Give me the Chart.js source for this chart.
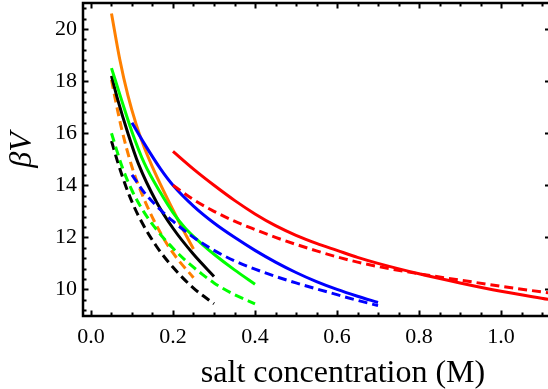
<!DOCTYPE html>
<html>
<head>
<meta charset="utf-8">
<script src="https://cdn.jsdelivr.net/npm/chart.js@4.4.0/dist/chart.umd.min.js"></script>
<style>
  html, body { margin: 0; padding: 0; background: #fff; }
  #wrap { width: 548px; height: 389px; }
</style>
</head>
<body>
<div id="wrap"><canvas id="chart"></canvas></div>
<script>
// salt concentration (M) -> beta*V, solid and dashed curve of each colour
const redX = [0.2, 0.25, 0.3, 0.35, 0.4, 0.45, 0.5, 0.55, 0.6, 0.65, 0.7, 0.8, 0.9, 1.0, 1.115];
const redSolid = [15.3, 14.62, 14.0, 13.42, 12.9, 12.45, 12.08, 11.77, 11.5, 11.23, 11.0, 10.6, 10.25, 9.93, 9.62];
const redDashed = [14.0, 13.45, 13.0, 12.62, 12.3, 12.0, 11.73, 11.48, 11.25, 11.05, 10.88, 10.6, 10.36, 10.12, 9.87];

const blueX = [0.1, 0.13, 0.17, 0.2, 0.25, 0.3, 0.35, 0.4, 0.45, 0.5, 0.55, 0.6, 0.65, 0.7];
const blueSolid = [16.4, 15.6, 14.62, 14.0, 13.2, 12.55, 12.0, 11.5, 11.05, 10.65, 10.3, 10.0, 9.74, 9.5];
const blueDashed = [14.4, 13.72, 13.05, 12.62, 12.0, 11.5, 11.1, 10.78, 10.5, 10.25, 10.02, 9.8, 9.58, 9.38];

const greenX = [0.05, 0.075, 0.1, 0.13, 0.17, 0.2, 0.23, 0.27, 0.3, 0.35, 0.4];
const greenSolid = [18.5, 17.25, 16.05, 14.85, 13.7, 12.95, 12.35, 11.75, 11.35, 10.75, 10.2];
const greenDashed = [16.0, 14.75, 13.8, 12.95, 12.1, 11.58, 11.12, 10.6, 10.25, 9.8, 9.45];

const blackX = [0.05, 0.065, 0.09, 0.115, 0.16, 0.2, 0.25, 0.3];
const blackSolid = [18.2, 17.3, 16.0, 14.85, 13.35, 12.35, 11.35, 10.5];
const blackDashed = [15.7, 14.9, 13.75, 12.85, 11.65, 10.85, 10.05, 9.45];

const orangeSolidX = [0.05, 0.07, 0.09, 0.11, 0.13, 0.15, 0.175, 0.2, 0.225, 0.25];
const orangeSolid = [20.6, 18.85, 17.45, 16.35, 15.45, 14.7, 13.85, 13.05, 12.28, 11.55];
const orangeDashedX = [0.05, 0.06, 0.075, 0.1, 0.13, 0.165, 0.2, 0.25];
const orangeDashed = [18.05, 17.25, 16.15, 14.7, 13.45, 12.3, 11.4, 10.45];

const xTicks = [0, 0.2, 0.4, 0.6, 0.8, 1.0];
const yTicks = [10, 12, 14, 16, 18, 20];

const pts = (xs, ys) => xs.map((x, i) => ({ x: x, y: ys[i] }));

function curve(xs, ys, color, dashed) {
  return {
    data: pts(xs, ys),
    borderColor: color,
    borderWidth: 3,
    borderDash: dashed ? [9, 5] : [],
    pointRadius: 0,
    fill: false,
    cubicInterpolationMode: 'monotone'
  };
}

const serif = '"Liberation Serif", "Times New Roman", serif';

// frame with inward ticks, plus the two axis titles
const framePlugin = {
  id: 'frame',
  afterDraw(chart) {
    const { ctx, chartArea: a, scales: { x, y } } = chart;
    ctx.save();
    ctx.strokeStyle = '#000';
    ctx.lineWidth = 2;
    ctx.beginPath();
    for (let v = 0; v <= 1.1001; v += 0.05) {
      const px = Math.round(x.getPixelForValue(v)) + 0.5;
      const major = Math.abs(v / 0.2 - Math.round(v / 0.2)) < 1e-6;
      const len = major ? 5.5 : 3.5;
      ctx.moveTo(px, a.bottom); ctx.lineTo(px, a.bottom - len);
      ctx.moveTo(px, a.top); ctx.lineTo(px, a.top + len);
    }
    for (let v = 9.2; v <= 21; v += 0.4) {
      const py = Math.round(y.getPixelForValue(v)) + 0.5;
      const major = Math.abs(v / 2 - Math.round(v / 2)) < 1e-6;
      const len = major ? 5.5 : 3.5;
      ctx.moveTo(a.left, py); ctx.lineTo(a.left + len, py);
      if (major) { ctx.moveTo(a.right, py); ctx.lineTo(a.right - 3, py); }
    }
    ctx.stroke();

    ctx.lineWidth = 2.5;
    ctx.beginPath();
    ctx.moveTo(a.right + 3, a.top);
    ctx.lineTo(a.left, a.top);
    ctx.lineTo(a.left, a.bottom);
    ctx.lineTo(a.right + 3, a.bottom);
    ctx.stroke();

    ctx.fillStyle = '#000';
    ctx.textAlign = 'center';
    ctx.textBaseline = 'alphabetic';
    ctx.font = '32px ' + serif;
    ctx.fillText('salt concentration (M)', 343, 382);

    ctx.translate(31, 150);
    ctx.rotate(-Math.PI / 2);
    ctx.font = 'italic 32px ' + serif;
    ctx.fillText('βV', 0, 0);
    ctx.restore();
  }
};

new Chart(document.getElementById('chart'), {
  type: 'line',
  data: {
    datasets: [
      curve(redX, redSolid, '#ff0000', false),
      curve(redX, redDashed, '#ff0000', true),
      curve(blueX, blueSolid, '#0000ff', false),
      curve(blueX, blueDashed, '#0000ff', true),
      curve(greenX, greenSolid, '#00ff00', false),
      curve(greenX, greenDashed, '#00ff00', true),
      curve(blackX, blackSolid, '#000000', false),
      curve(blackX, blackDashed, '#000000', true),
      curve(orangeSolidX, orangeSolid, '#ff8000', false),
      curve(orangeDashedX, orangeDashed, '#ff8000', true)
    ]
  },
  options: {
    responsive: true,
    maintainAspectRatio: false,
    animation: false,
    events: [],
    layout: { padding: { top: 3, left: 0, right: 0, bottom: 0 } },
    plugins: { legend: { display: false }, tooltip: { enabled: false } },
    scales: {
      x: {
        type: 'linear',
        min: -0.0195,
        max: 1.1146,
        grid: { display: false, drawTicks: false },
        border: { display: false },
        ticks: {
          color: '#000',
          padding: 8,
          maxRotation: 0,
          font: { family: serif, size: 22 },
          callback: v => v.toFixed(1)
        },
        afterBuildTicks: s => { s.ticks = xTicks.map(v => ({ value: v })); },
        afterFit: s => {
          s.height = 73;
          s.paddingLeft = 0; s.paddingRight = 0;
        }
      },
      y: {
        type: 'linear',
        min: 8.98,
        max: 21.0,
        grid: { display: false, drawTicks: false },
        border: { display: false },
        ticks: {
          color: '#000',
          padding: 6,
          font: { family: serif, size: 22 },
          callback: v => String(v)
        },
        afterBuildTicks: s => { s.ticks = yTicks.map(v => ({ value: v })); },
        afterFit: s => {
          s.width = 83;
          s.paddingTop = 0; s.paddingBottom = 0;
        }
      }
    }
  },
  plugins: [framePlugin]
});
</script>
</body>
</html>
